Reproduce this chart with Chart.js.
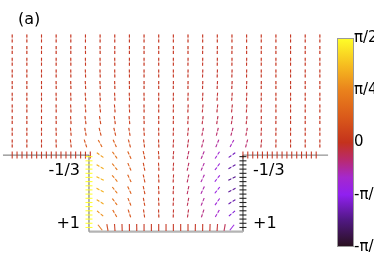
<!DOCTYPE html>
<html><head><meta charset="utf-8">
<script src="https://cdn.jsdelivr.net/npm/chart.js@4.4.1/dist/chart.umd.min.js"></script>
<style>html,body{margin:0;padding:0;background:#fff;overflow:hidden}canvas{display:block}</style>
</head><body>
<canvas id="c" width="374" height="280"></canvas>
<script>
// ---- data (grid units; angle in degrees from vertical) ----
const columns = [0,1,2,3,4,5,6,7,8,9,10,11,12,13,14,15,16,17,18,19,20,21];
const upperRows = [0,1,2,3,4,5,6,7,8,9];
const upperAngles = [
  [0,0,0,0,0,0,0,0,0,0,0,0,0,0,0,0,0,0,0,0,0,0],
  [0,0,0,0,0,1,1,0,0,0,0,0,0,-1,-1,-1,0,0,0,0,0,0],
  [0,0,0,0,1,1,1,1,0,0,0,0,-1,-1,-1,-1,-1,0,0,0,0,0],
  [0,0,0,0,1,2,2,1,1,0,0,0,-1,-2,-2,-2,-1,0,0,0,0,0],
  [0,0,0,1,2,3,3,2,1,0,0,-1,-1,-2,-3,-3,-2,-1,0,0,0,0],
  [0,0,0,1,2,4,4,3,2,1,0,-1,-2,-3,-4,-4,-3,-1,0,0,0,0],
  [0,0,0,1,3,5,6,5,3,1,0,-1,-3,-5,-6,-6,-4,-2,0,0,0,0],
  [0,0,0,1,4,7,9,8,5,2,0,-1,-4,-7,-9,-9,-6,-2,-1,0,0,0],
  [0,0,0,2,5,10,14,13,9,4,1,-2,-6,-11,-14,-15,-10,-3,-1,0,0,0],
  [0,0,0,2,6,18,28,24,15,7,2,-3,-8,-15,-22,-28,-15,-5,-1,0,0,0]
];
const wellColumns = [6,7,8,9,10,11,12,13,14,15];
const wellRows = [10,11,12,13,14,15];
const wellAngles = [
  [55,35,24,12,4,-4,-12,-22,-33,-55],
  [60,38,23,11,3,-3,-12,-23,-36,-60],
  [64,40,25,12,3,-3,-12,-25,-38,-64],
  [62,38,25,12,3,-3,-12,-25,-38,-62],
  [58,36,22,10,3,-3,-10,-22,-35,-58],
  [50,30,18,8,2,-2,-8,-18,-30,-50]
];
const floorTickX = [6,6.5,7,7.5,8,8.5,9,9.5,10,10.5,11,11.5,12,12.5,13,13.5,14,14.5,15];
const floorTickAngles = [38,10,4,2,1,1,0,0,0,0,0,0,0,-1,-1,-2,-4,-10,-38];
const ledgeLeftTickX = [0,0.33,0.67,1,1.33,1.67,2,2.33,2.67,3,3.33,3.67,4,4.33,4.67,5,5.33];
const ledgeRightTickX = [15.75,16.08,16.42,16.75,17.08,17.42,17.75,18.08,18.42,18.75,19.08,19.42,19.75,20.08,20.42,20.75];
const sideTickY = [10.13,10.49,10.84,11.2,11.56,11.91,12.27,12.63,12.98,13.34,13.7,14.06,14.41,14.77,15.13,15.48,15.84,16.2];
const ledgeAngle = 0, leftWallAngle = 90, rightWallAngle = -90;
const ledgeY = 10, floorY = 16.56, floorTickY = 16.2, leftWallX = 5.24, rightWallX = 15.75;
const ledgeLeftStart = -0.63, ledgeRightEnd = 21.56;
const colorbarTicks = [-Math.PI/2, -Math.PI/4, 0, Math.PI/4, Math.PI/2];
const colorbarLabels = ['-π/2', '-π/4', '0', 'π/4', 'π/2'];

// ---- colour map (angle deg -> colour) ----
const cmapStops = [
  [-90,[40,16,28]],[-67,[80,24,130]],[-45,[144,32,240]],[-30,[165,40,205]],[-15,[185,42,110]],
  [0,[196,50,28]],[22,[218,90,26]],[45,[234,130,28]],[67,[246,190,32]],[90,[255,255,40]]
];
function cmap(a, alpha){
  a = Math.max(-90, Math.min(90, a));
  for (let i=0;i<cmapStops.length-1;i++){
    const [a0,c0]=cmapStops[i],[a1,c1]=cmapStops[i+1];
    if (a>=a0 && a<=a1){
      const t=(a-a0)/(a1-a0);
      const c=c0.map((v,k)=>Math.round(v+(c1[k]-v)*t));
      return `rgba(${c[0]},${c[1]},${c[2]},${alpha})`;
    }
  }
  return 'black';
}

// ---- build point lists ----
const fieldPts = [];
upperRows.forEach((r,i)=>columns.forEach((c,j)=>fieldPts.push({x:c,y:r,a:upperAngles[i][j]})));
wellRows.forEach((r,i)=>wellColumns.forEach((c,j)=>fieldPts.push({x:c,y:r,a:wellAngles[i][j]})));
const anchorPts = [];
ledgeLeftTickX.forEach(x=>anchorPts.push({x:x,y:ledgeY,a:ledgeAngle}));
ledgeRightTickX.forEach(x=>anchorPts.push({x:x,y:ledgeY,a:ledgeAngle}));
floorTickX.forEach((x,i)=>anchorPts.push({x:x,y:floorTickY,a:floorTickAngles[i]}));
sideTickY.forEach(y=>anchorPts.push({x:leftWallX,y:y,a:leftWallAngle}));
sideTickY.forEach(y=>anchorPts.push({x:rightWallX,y:y,a:rightWallAngle}));

function wall(points,color,width){
  return {type:'scatter',data:points,showLine:true,borderColor:color,borderWidth:width,pointRadius:0,order:10,fill:false};
}
function vecSet(points,len,width,alpha,order,dash){
  return {type:'scatter',data:points,order:order,pointStyle:'line',pointRadius:len,pointHoverRadius:len,
    borderWidth:width,rotation:ctx=>90-ctx.raw.a,dashPattern:dash,
    borderColor:ctx=>ctx.raw.a<=-89?`rgba(25,25,25,${alpha})`:cmap(ctx.raw.a,alpha),
    backgroundColor:'transparent'};
}

const textLabels = [
  {t:'(a)',x:0.4,y:-1.58,align:'left'},
  {t:'-1/3',x:4.63,y:11.36,align:'right'},
  {t:'+1',x:4.63,y:15.85,align:'right'},
  {t:'-1/3',x:16.44,y:11.36,align:'left'},
  {t:'+1',x:16.44,y:15.9,align:'left'}
];
const FONT = '"DejaVu Sans", Verdana, sans-serif';

const extras = {
  id:'extras',
  beforeDatasetDraw(chart,args){
    const ds = chart.data.datasets[args.index];
    if (ds.dashPattern) chart.ctx.setLineDash(ds.dashPattern);
  },
  afterDatasetDraw(chart){ chart.ctx.setLineDash([]); },
  beforeDatasetsDraw(chart){
    const {ctx,chartArea,scales} = chart;
    const cb = scales.cb;
    const top = cb.getPixelForValue(Math.PI/2), bot = cb.getPixelForValue(-Math.PI/2);
    const x1 = chartArea.right, x0 = x1-17;
    const g = ctx.createLinearGradient(0,top,0,bot);
    cmapStops.slice().reverse().forEach(([a,c])=>g.addColorStop((90-a)/180,`rgb(${c[0]},${c[1]},${c[2]})`));
    ctx.save();
    ctx.fillStyle=g; ctx.fillRect(x0,top,x1-x0,bot-top);
    ctx.strokeStyle='#9a9a9a'; ctx.lineWidth=1; ctx.strokeRect(x0+0.5,top+0.5,x1-x0-1,bot-top-1);
    ctx.restore();
  },
  afterDatasetsDraw(chart){
    const {ctx,scales} = chart;
    ctx.save();
    ctx.setLineDash([]);
    ctx.fillStyle='#000'; ctx.font='16px '+FONT; ctx.textBaseline='middle';
    textLabels.forEach(l=>{ctx.textAlign=l.align; ctx.fillText(l.t, scales.x.getPixelForValue(l.x), scales.y.getPixelForValue(l.y));});
    ctx.restore();
  }
};

new Chart(document.getElementById('c'),{
  type:'scatter',
  data:{datasets:[
    vecSet(fieldPts,4,1.1,0.95,0,[3,2]),
    vecSet(fieldPts,4,1,0.3,1,null),
    vecSet(anchorPts,3.5,1.1,0.95,0,null),
    wall([{x:ledgeLeftStart,y:ledgeY},{x:leftWallX,y:ledgeY}],'#6e6e6e',1),
    wall([{x:leftWallX,y:ledgeY},{x:leftWallX,y:floorY}],'#9a9a9a',1.5),
    wall([{x:leftWallX,y:floorY},{x:rightWallX,y:floorY}],'#b4b4b4',2.2),
    wall([{x:rightWallX,y:floorY},{x:rightWallX,y:ledgeY}],'#777777',1.5),
    wall([{x:rightWallX,y:ledgeY},{x:ledgeRightEnd,y:ledgeY}],'#7a7a7a',1)
  ]},
  options:{
    responsive:false, animation:false, devicePixelRatio:1,
    layout:{padding:0,autoPadding:false},
    plugins:{legend:{display:false},tooltip:{enabled:false}},
    events:[],
    scales:{
      x:{type:'linear',display:false,min:-0.833,max:23.33},
      y:{type:'linear',display:false,reverse:true,min:-3.29,max:20.70},
      cb:{type:'linear',position:'right',min:-2.067,max:2.142,
        grid:{display:false,drawTicks:false},border:{display:false},
        afterBuildTicks:s=>{s.ticks=colorbarTicks.map(v=>({value:v}));},
        afterFit:s=>{s.width=20;s.paddingTop=0;s.paddingBottom=0;},
        ticks:{autoSkip:false,padding:0,color:'#000',font:{size:15,family:FONT},
          callback:(v,i)=>colorbarLabels[i]}
      }
    }
  },
  plugins:[extras]
});
</script>
</body></html>
